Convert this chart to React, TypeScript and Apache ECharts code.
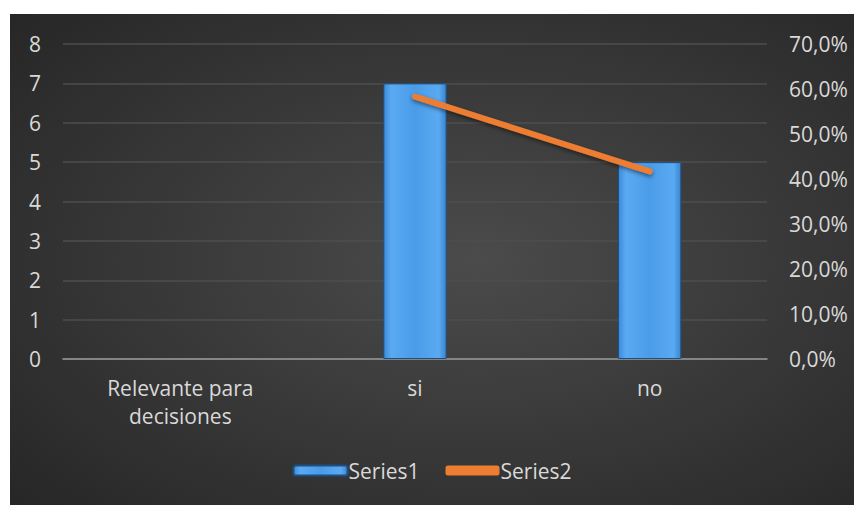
import React, { useEffect, useRef } from "react";
import * as echarts from "echarts";

const categories = ["Relevante para\ndecisiones", "si", "no"];
const series1Values: (number | string)[] = ["-", 7, 5];
const series2Values: (number | string)[] = ["-", 0.583, 0.417];
const leftTicks = { min: 0, max: 8, interval: 1 };
const rightTicks = { min: 0, max: 0.7, interval: 0.1 };

const FONT = "'Open Sans', 'Noto Sans', sans-serif";
const LABEL = "#d9d9d9";
const FS = 21;

export default function App() {
  const ref = useRef<HTMLDivElement>(null);
  useEffect(() => {
    if (!ref.current) return;
    const chart = echarts.init(ref.current, undefined, { renderer: "svg" });
    chart.setOption({
      animation: false,
      backgroundColor: new echarts.graphic.RadialGradient(0.55, 0.5, 0.75, [
        { offset: 0, color: "#4b4b4b" },
        { offset: 1, color: "#262626" },
      ]),
      textStyle: { fontFamily: FONT },
      grid: { left: 53, right: 87, top: 30, bottom: 146, containLabel: false },
      legend: {
        bottom: 19,
        left: "center",
        itemWidth: 54,
        itemHeight: 10,
        itemGap: 26,
        textStyle: { color: LABEL, fontSize: FS, fontFamily: FONT, padding: [0, 0, 0, -4] },
        data: [
          { name: "Series1" },
          { name: "Series2", icon: "roundRect", itemStyle: { color: "#ed7d31" } },
        ],
      },
      xAxis: {
        type: "category",
        data: categories,
        axisLine: { show: true, lineStyle: { color: "#9a9a9a", width: 1.5 } },
        axisTick: { show: false },
        axisLabel: { color: LABEL, fontSize: FS, margin: 15, lineHeight: 28, fontFamily: FONT },
      },
      yAxis: [
        {
          type: "value",
          ...leftTicks,
          axisLine: { show: false },
          axisTick: { show: false },
          splitLine: { lineStyle: { color: "#4e4e4e", width: 1.5 } },
          axisLabel: { color: LABEL, fontSize: FS, margin: 22, fontFamily: FONT },
        },
        {
          type: "value",
          ...rightTicks,
          position: "right",
          axisLine: { show: false },
          axisTick: { show: false },
          splitLine: { show: false },
          axisLabel: {
            color: LABEL,
            fontSize: FS,
            margin: 22,
            fontFamily: FONT,
            formatter: (v: number) => (v * 100).toFixed(1).replace(".", ",") + "%",
          },
        },
      ],
      series: [
        {
          name: "Series1",
          type: "bar",
          data: series1Values,
          barWidth: "27%",
          yAxisIndex: 0,
          itemStyle: {
            color: new echarts.graphic.LinearGradient(0, 0, 1, 0, [
              { offset: 0, color: "#3c8ad8" },
              { offset: 0.12, color: "#5aaaf2" },
              { offset: 0.5, color: "#4a9ce8" },
              { offset: 0.88, color: "#5aaaf2" },
              { offset: 1, color: "#3a84cf" },
            ]),
            borderColor: "#1e4f80",
            borderWidth: 1,
          },
        },
        {
          name: "Series2",
          type: "line",
          data: series2Values,
          yAxisIndex: 1,
          showSymbol: false,
          symbol: "none",
          lineStyle: {
            color: "#ed7d31",
            width: 6,
            cap: "round",
            shadowColor: "rgba(0,0,0,0.5)",
            shadowBlur: 4,
            shadowOffsetY: 2,
          },
          itemStyle: { color: "#ed7d31" },
        },
      ],
    });
    return () => chart.dispose();
  }, []);
  return (
    <div
      ref={ref}
      style={{ position: "absolute", left: 10, top: 14, width: 844, height: 491 }}
    />
  );
}
